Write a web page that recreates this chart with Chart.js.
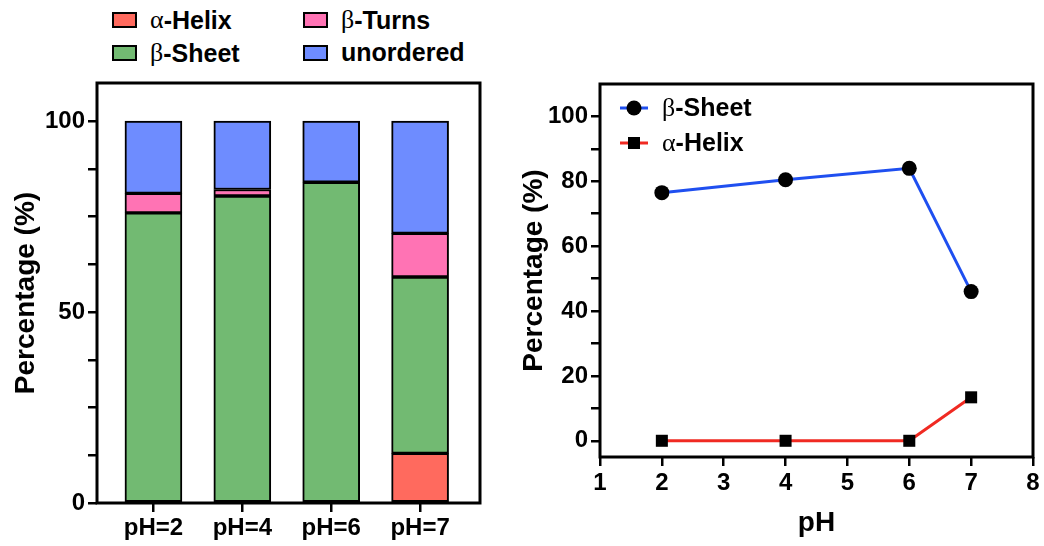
<!DOCTYPE html>
<html>
<head>
<meta charset="utf-8">
<script src="https://cdn.jsdelivr.net/npm/chart.js@4"></script>
<style>
  body { margin: 0; background: #fff; width: 1044px; height: 546px; position: relative; overflow: hidden; font-family: "Liberation Sans", Arial, sans-serif; }
  #bars { position: absolute; left: 0; top: 0; }
  #lines { position: absolute; left: 520px; top: 0; }
  .lg { position: absolute; display: flex; align-items: center; font-weight: bold; font-size: 25px; color: #000; }
  .lg .box { width: 21px; height: 12px; border: 2px solid #000; margin-right: 13px; }
  .gk { font-family: "Liberation Serif", serif; font-weight: normal; font-size: 26px; }
</style>
</head>
<body>
<div class="lg" style="left:112px; top:5px;"><span class="box" style="background:#ff6a5e"></span><span class="gk">α</span>-Helix</div>
<div class="lg" style="left:303px; top:5px;"><span class="box" style="background:#ff73b4"></span><span class="gk">β</span>-Turns</div>
<div class="lg" style="left:112px; top:38px;"><span class="box" style="background:#72ba72"></span><span class="gk">β</span>-Sheet</div>
<div class="lg" style="left:303px; top:38px;"><span class="box" style="background:#6e8cff"></span>unordered</div>
<canvas id="bars" width="520" height="546"></canvas>
<canvas id="lines" width="524" height="546"></canvas>
<script>
// stacked composition per pH
const categories = ["pH=2", "pH=4", "pH=6", "pH=7"];
const helix = [0, 0, 0, 13];
const sheet = [76, 80.4, 84, 46.2];
const turns = [5.1, 1.7, 0, 11.4];
const unordered = [18.9, 17.9, 16, 29.4];
const barTicks = [0, 12.5, 25, 37.5, 50, 62.5, 75, 87.5, 100];

// line plot
const phValues = [2, 4, 6, 7];
const sheetLine = [76.5, 80.5, 84, 46];
const helixLine = [0, 0, 0, 13.4];
const lineTicksX = [1, 2, 3, 4, 5, 6, 7, 8];
const lineTicksY = [0, 10, 20, 30, 40, 50, 60, 70, 80, 90, 100];

const FONT = "'Liberation Sans', Arial, sans-serif";
const tickFont = { family: FONT, size: 24, weight: "bold" };
const titleFont = { family: FONT, size: 28, weight: "bold", lineHeight: 1 };

const frame = {
  id: "frame",
  afterDraw(chart) {
    const a = chart.chartArea;
    const ctx = chart.ctx;
    ctx.save();
    ctx.strokeStyle = "#000";
    ctx.lineWidth = 3;
    ctx.strokeRect(a.left, a.top, a.right - a.left, a.bottom - a.top);
    ctx.restore();
  },
};

const tickGrid = { drawOnChartArea: false, drawTicks: true, tickLength: 9, tickColor: "#000", lineWidth: 2.5, offset: false };

function toPoints(xs, ys) {
  return ys.map((y, i) => ({ x: xs[i], y: y }));
}

const idx = categories.map((c, i) => i);
function barSet(label, values, color) {
  return {
    label: label,
    data: toPoints(idx, values),
    backgroundColor: color,
    borderColor: "#000",
    borderWidth: 2,
    borderSkipped: false,
    barThickness: 57,
  };
}

new Chart(document.getElementById("bars"), {
  type: "bar",
  data: {
    datasets: [
      barSet("α-Helix", helix, "#ff6a5e"),
      barSet("β-Sheet", sheet, "#72ba72"),
      barSet("β-Turns", turns, "#ff73b4"),
      barSet("unordered", unordered, "#6e8cff"),
    ],
  },
  plugins: [frame],
  options: {
    responsive: false,
    animation: false,
    layout: { padding: { top: 83, right: 40, left: 0, bottom: 0 } },
    plugins: { legend: { display: false }, tooltip: { enabled: false } },
    scales: {
      x: {
        type: "linear",
        stacked: true,
        offset: false,
        min: -0.635,
        max: 3.674,
        grid: tickGrid,
        border: { display: false },
        afterBuildTicks: (s) => { s.ticks = idx.map((v) => ({ value: v })); },
        afterFit: (s) => { s.height = 43; },
        ticks: { color: "#000", font: tickFont, padding: 2, maxRotation: 0, callback: (v) => categories[v] },
      },
      y: {
        stacked: true,
        min: 0,
        max: 110,
        grid: tickGrid,
        border: { display: false },
        afterBuildTicks: (s) => { s.ticks = barTicks.map((v) => ({ value: v })); },
        afterFit: (s) => { s.width = 97; },
        ticks: { color: "#000", font: tickFont, padding: 3, callback: (v) => (v % 50 === 0 ? v : "") },
        title: { display: true, text: "Percentage (%)", color: "#000", font: titleFont, padding: { top: 12, bottom: 0 } },
      },
    },
  },
});

// legend drawn inside the line plot
const insideLegend = {
  id: "insideLegend",
  afterDraw(chart) {
    const ctx = chart.ctx;
    const a = chart.chartArea;
    const rows = [
      { greek: "β", text: "-Sheet", color: "#1f4ff0", style: "circle" },
      { greek: "α", text: "-Helix", color: "#f02a22", style: "rect" },
    ];
    ctx.save();
    rows.forEach((r, i) => {
      const y = a.top + 24 + i * 35;
      const x0 = a.left + 20;
      ctx.strokeStyle = r.color;
      ctx.lineWidth = 3;
      ctx.beginPath();
      ctx.moveTo(x0, y);
      ctx.lineTo(x0 + 28, y);
      ctx.stroke();
      ctx.fillStyle = "#000";
      ctx.beginPath();
      if (r.style === "circle") ctx.arc(x0 + 14, y, 7.5, 0, Math.PI * 2);
      else ctx.rect(x0 + 8, y - 6, 12, 12);
      ctx.fill();
      ctx.textBaseline = "middle";
      ctx.font = "26px 'Liberation Serif', serif";
      ctx.fillText(r.greek, x0 + 42, y + 1);
      const gw = ctx.measureText(r.greek).width;
      ctx.font = "bold 25px " + FONT;
      ctx.fillText(r.text, x0 + 42 + gw, y + 1);
    });
    ctx.restore();
  },
};

new Chart(document.getElementById("lines"), {
  type: "line",
  data: {
    datasets: [
      {
        label: "β-Sheet",
        data: toPoints(phValues, sheetLine),
        borderColor: "#1f4ff0",
        borderWidth: 3,
        pointStyle: "circle",
        pointRadius: 7.5,
        pointBackgroundColor: "#000",
        pointBorderColor: "#000",
        pointBorderWidth: 0,
        tension: 0,
      },
      {
        label: "α-Helix",
        data: toPoints(phValues, helixLine),
        borderColor: "#f02a22",
        borderWidth: 3,
        pointStyle: "rect",
        pointRadius: 8.5,
        pointBackgroundColor: "#000",
        pointBorderColor: "#000",
        pointBorderWidth: 0,
        tension: 0,
      },
    ],
  },
  plugins: [frame, insideLegend],
  options: {
    responsive: false,
    animation: false,
    layout: { padding: { top: 84, right: 11, left: 0, bottom: 0 } },
    plugins: { legend: { display: false }, tooltip: { enabled: false } },
    scales: {
      x: {
        type: "linear",
        min: 1,
        max: 8,
        grid: tickGrid,
        border: { display: false },
        afterBuildTicks: (s) => { s.ticks = lineTicksX.map((v) => ({ value: v })); },
        afterFit: (s) => { s.height = 89; },
        ticks: { color: "#000", font: tickFont, padding: 3, maxRotation: 0 },
        title: { display: true, text: "pH", color: "#000", font: titleFont, padding: { top: 0, bottom: 9 } },
      },
      y: {
        min: -5,
        max: 110,
        grid: tickGrid,
        border: { display: false },
        afterBuildTicks: (s) => { s.ticks = lineTicksY.map((v) => ({ value: v })); },
        afterFit: (s) => { s.width = 80; },
        ticks: { color: "#000", font: tickFont, padding: 3, callback: (v) => (v % 20 === 0 ? v : "") },
        title: { display: true, text: "Percentage (%)", color: "#000", font: titleFont, padding: { top: 0, bottom: 0 } },
      },
    },
  },
});
</script>
</body>
</html>
